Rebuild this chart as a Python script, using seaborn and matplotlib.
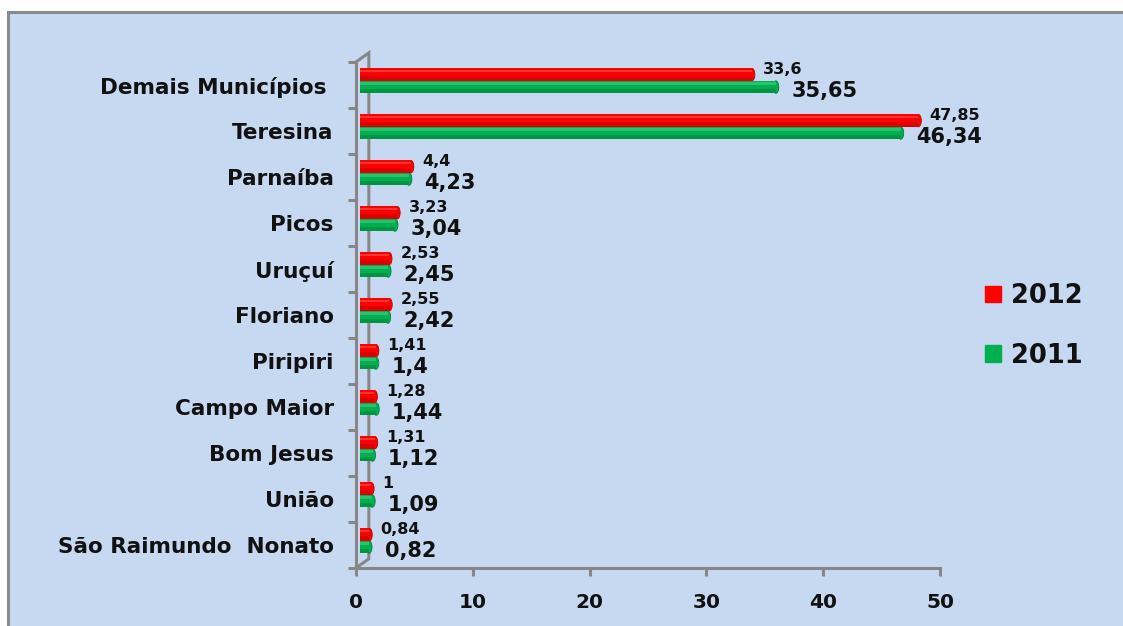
import matplotlib
matplotlib.use("Agg")
import matplotlib.pyplot as plt
import seaborn as sns
import pandas as pd
from matplotlib.patches import Rectangle, Patch, Ellipse
from matplotlib.ticker import FixedLocator

# ---- data ----
municipios = ["Demais Municípios ", "Teresina", "Parnaíba", "Picos", "Uruçuí",
              "Floriano", "Piripiri", "Campo Maior", "Bom Jesus", "União",
              "São Raimundo  Nonato"]
v2012 = [33.6, 47.85, 4.4, 3.23, 2.53, 2.55, 1.41, 1.28, 1.31, 1.0, 0.84]
v2011 = [35.65, 46.34, 4.23, 3.04, 2.45, 2.42, 1.4, 1.44, 1.12, 1.09, 0.82]
anos = ["2012", "2011"]
xticks = [0, 10, 20, 30, 40, 50]

cores = {"2012": "#ff0000", "2011": "#00b050"}
escuras = {"2012": "#c00000", "2011": "#00803a"}
claras = {"2012": "#ff5a5a", "2011": "#3fd184"}

df = pd.DataFrame({
    "Municipio": municipios * 2,
    "Valor": v2012 + v2011,
    "Ano": [anos[0]] * len(municipios) + [anos[1]] * len(municipios),
})

W, H = 1123, 626
sns.set_theme(style="white")
plt.rcParams["font.family"] = ["DejaVu Sans"]

fig = plt.figure(figsize=(W / 100, H / 100), dpi=100)
fig.patch.set_facecolor("white")
bg = Rectangle((8 / W, -0.02), 1.2, (H - 12) / H + 0.02, transform=fig.transFigure,
               facecolor="#c6d9f1", edgecolor="#8a8a8a", lw=2.2, zorder=-10)
fig.patches.append(bg)

ax = fig.add_axes([356 / W, 1 - 568 / H, (940 - 356) / W, (568 - 62) / H])
ax.set_facecolor("none")

sns.barplot(data=df, y="Municipio", x="Valor", hue="Ano", hue_order=anos,
            palette=cores, orient="h", width=0.54, saturation=1, errorbar=None,
            legend=False, ax=ax, zorder=3)

GRAY = "#878787"
DEPTH_Y = 0.09   # 3D shift of bars (category units)
DEPTH_X = 0.3    # 3D shift of bars (value units)
CAP = 0.5        # width of the rounded bar end (value units)
n = len(municipios)
bars = list(ax.patches)[:2 * n]
for i, p in enumerate(bars):
    ano = anos[i // n]
    val = p.get_width()
    p.set_y(p.get_y() - DEPTH_Y)
    p.set_x(p.get_x() + DEPTH_X)
    p.set_edgecolor("none")
    x0, y0, w, h = p.get_x(), p.get_y(), p.get_width(), p.get_height()
    # rounded cylinder end
    ax.add_patch(Ellipse((x0 + w, y0 + h / 2), CAP, h, facecolor=cores[ano],
                         edgecolor=escuras[ano], lw=0.6, zorder=2.9))
    # cylinder shading
    ax.add_patch(Rectangle((x0, y0 + h * 0.62), w, h * 0.38, facecolor=escuras[ano],
                           edgecolor="none", alpha=0.55, zorder=3.5))
    ax.add_patch(Rectangle((x0, y0 + h * 0.12), w, h * 0.18, facecolor=claras[ano],
                           edgecolor="none", alpha=0.6, zorder=3.5))
    end = x0 + w + CAP / 2
    yc = y0 + h / 2
    txt = f"{val:g}".replace(".", ",")
    if ano == "2012":
        ax.annotate(txt, (end, yc), xytext=(6, 4), textcoords="offset points",
                    ha="left", va="center", fontsize=11.5, fontweight="bold",
                    color="#111111", zorder=5)
    else:
        ax.annotate(txt, (end, yc), xytext=(9, -2.5), textcoords="offset points",
                    ha="left", va="center", fontsize=15, fontweight="bold",
                    color="#111111", zorder=5)

ax.set_xlim(0, 50)
ax.set_ylim(n - 0.5, -0.5)
ax.set_xticks(xticks)
ax.set_xlabel("")
ax.set_ylabel("")

for s in ["top", "right"]:
    ax.spines[s].set_visible(False)
for s in ["left", "bottom"]:
    ax.spines[s].set_color(GRAY)
    ax.spines[s].set_linewidth(2.2)

ax.yaxis.set_minor_locator(FixedLocator([k - 0.5 for k in range(n + 1)]))
ax.tick_params(axis="y", which="minor", length=6, width=2.2, color=GRAY, direction="out", left=True)
ax.tick_params(axis="y", which="major", length=0, pad=16, labelsize=15.5)
ax.tick_params(axis="x", which="major", length=6, width=2.2, color=GRAY, direction="out",
               bottom=True, pad=12, labelsize=14.5)
for lab in ax.get_yticklabels() + ax.get_xticklabels():
    lab.set_fontweight("bold")
    lab.set_color("#111111")

# 3D back wall line
ax.plot([0, 1.1, 1.1, 0], [-0.5, -0.7, n - 0.7, n - 0.5], color=GRAY, lw=2.2,
        clip_on=False, zorder=1, solid_joinstyle="miter")

handles = [Patch(facecolor=cores[a], edgecolor=cores[a]) for a in anos]
fig.legend(handles, anos, loc="center left", bbox_to_anchor=(975 / W, 1 - 326 / H),
           frameon=False, prop={"size": 18.5, "weight": "bold"}, handlelength=0.6,
           handleheight=0.6, labelspacing=1.3, handletextpad=0.4, borderaxespad=0,
           labelcolor="#111111")

fig.savefig("out.png", dpi=100, facecolor="white")
